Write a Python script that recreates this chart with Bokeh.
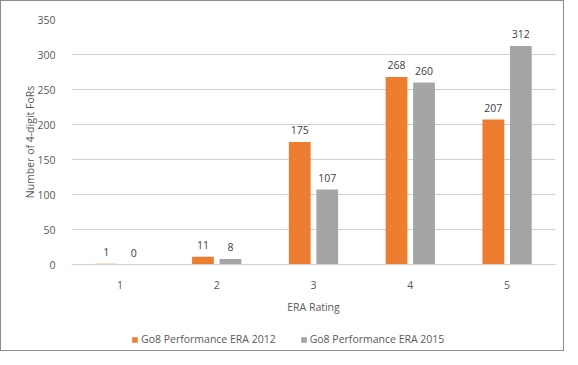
from bokeh.plotting import figure
from bokeh.layouts import column
from bokeh.models import (ColumnDataSource, FactorRange, Range1d, Legend, LegendItem, LabelSet,
                          SingleIntervalTicker)
from bokeh.core.properties import value
from bokeh.transform import dodge
from bokeh.embed import file_html
from bokeh.resources import INLINE

ratings = ["1", "2", "3", "4", "5"]
era_2012 = [1, 11, 175, 268, 207]
era_2015 = [0, 8, 107, 260, 312]
series_names = ["Go8 Performance ERA 2012", "Go8 Performance ERA 2015"]
colors = ["#ED7D31", "#A5A5A5"]

FONT = "Open Sans"
TXT = "#595959"

src = ColumnDataSource(dict(r=ratings, a=era_2012, b=era_2015,
                            la=[str(v) for v in era_2012], lb=[str(v) for v in era_2015]))

p = figure(width=562, height=315, x_range=FactorRange(*ratings), y_range=Range1d(0, 350),
           output_backend="svg", toolbar_location=None,
           min_border_left=70, min_border_right=8, min_border_top=18, min_border_bottom=50)
p.outline_line_color = None
p.background_fill_color = "white"

p.vbar(x=dodge("r", -0.142, range=p.x_range), top="a", width=0.225, source=src,
       fill_color=colors[0], line_color=None)
p.vbar(x=dodge("r", 0.142, range=p.x_range), top="b", width=0.225, source=src,
       fill_color=colors[1], line_color=None)

for col, lab, off in (("a", "la", -0.142), ("b", "lb", 0.142)):
    ls = LabelSet(x=dodge("r", off, range=p.x_range), y=col, text=lab, source=src,
                  text_align="center", y_offset=8, text_font=value(FONT), text_font_size="10.5px",
                  text_color="#404040")
    p.add_layout(ls)

p.xgrid.grid_line_color = None
p.ygrid.grid_line_color = "#d0d0d0"
p.ygrid.ticker = SingleIntervalTicker(interval=50)
p.yaxis.ticker = SingleIntervalTicker(interval=50)
p.yaxis.axis_line_color = None
p.yaxis.major_tick_line_color = None
p.yaxis.minor_tick_line_color = None
p.yaxis.major_label_text_font = FONT
p.yaxis.major_label_text_font_size = "10.5px"
p.yaxis.major_label_text_color = TXT
p.yaxis.major_label_standoff = 10
p.yaxis.axis_label = "Number of 4-digit FoRs"
p.yaxis.axis_label_text_font = FONT
p.yaxis.axis_label_text_font_size = "10.5px"
p.yaxis.axis_label_text_font_style = "normal"
p.yaxis.axis_label_text_color = TXT
p.yaxis.axis_label_standoff = -3

p.xaxis.axis_line_color = "#d0d0d0"
p.xaxis.major_tick_line_color = None
p.xaxis.minor_tick_line_color = None
p.xaxis.major_label_text_font = FONT
p.xaxis.major_label_text_font_size = "10.5px"
p.xaxis.major_label_text_color = TXT
p.xaxis.major_label_standoff = 10
p.xaxis.axis_label = "ERA Rating"
p.xaxis.axis_label_text_font = FONT
p.xaxis.axis_label_text_font_size = "10.5px"
p.xaxis.axis_label_text_font_style = "normal"
p.xaxis.axis_label_text_color = TXT
p.xaxis.axis_label_standoff = 8

# legend strip (frame aligned with the chart's frame by the column layout)
p2 = figure(width=562, height=34, x_range=Range1d(0, 1), y_range=Range1d(0, 1),
            output_backend="svg", toolbar_location=None,
            min_border_left=0, min_border_right=0, min_border_top=0, min_border_bottom=0)
p2.axis.visible = False
p2.grid.grid_line_color = None
p2.outline_line_color = None
lr1 = p2.vbar(x=[-5], top=[0], width=0.1, fill_color=colors[0], line_color=None)
lr2 = p2.vbar(x=[-5], top=[0], width=0.1, fill_color=colors[1], line_color=None)
legend = Legend(items=[LegendItem(label=series_names[0], renderers=[lr1]),
                       LegendItem(label=series_names[1], renderers=[lr2])],
                orientation="horizontal", location=(60, 4),
                glyph_width=7, glyph_height=7, label_text_font=FONT,
                label_text_font_size="10.5px", label_text_color=TXT,
                border_line_color=None, background_fill_alpha=0,
                spacing=24, label_standoff=3, margin=0, padding=3)
p2.add_layout(legend, "center")

layout = column(p, p2, spacing=0, styles={"border": "1px solid #8c8c8c"})

open("out.html", "w").write(file_html(layout, INLINE))
